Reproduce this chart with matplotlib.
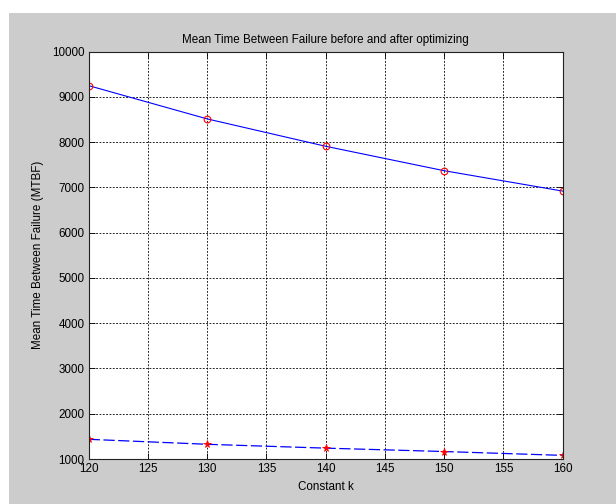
import matplotlib.pyplot as plt
from matplotlib.patches import Rectangle

k = [120, 130, 140, 150, 160]
mtbf_after = [9250, 8515, 7910, 7370, 6920]
mtbf_before = [1435, 1325, 1240, 1165, 1080]
xticks = [120, 125, 130, 135, 140, 145, 150, 155, 160]
yticks = [1000, 2000, 3000, 4000, 5000, 6000, 7000, 8000, 9000, 10000]

plt.rcParams['font.family'] = ['Liberation Sans', 'DejaVu Sans']
plt.rcParams['font.size'] = 8.4

fig = plt.figure(figsize=(6.16, 5.04), dpi=100)
fig.patch.set_facecolor('white')
# grey figure panel, inset a little from the top and left edges
fig.patches.append(Rectangle((9 / 616, 0), 1, 1 - 13 / 504, transform=fig.transFigure,
                             facecolor='#cccccc', edgecolor='none', zorder=-10))

ax = fig.add_axes([88.7 / 616, 45 / 504, 474 / 616, 407.3 / 504])
ax.set_facecolor('white')

ax.plot(k, mtbf_after, '-', color='blue', lw=0.8)
ax.plot(k, mtbf_after, 'o', mfc='none', mec='red', ms=4.8, mew=0.8)
ax.plot(k, mtbf_before, '--', color='blue', lw=0.9, dashes=(9, 2.8))
ax.plot(k, mtbf_before, '*', color='red', ms=5.5, mew=0.6)

ax.set_xlim(120, 160)
ax.set_ylim(1000, 10000)
ax.set_xticks(xticks)
ax.set_yticks(yticks)
ax.grid(True, color='black', linestyle=(0, (2.2, 1.8)), linewidth=0.6)
ax.tick_params(direction='in', length=4, width=0.6, top=True, right=True, pad=3)
for s in ax.spines.values():
    s.set_linewidth(0.8)
    s.set_color('#222222')

ax.set_title('Mean Time Between Failure before and after optimizing', fontsize=8.4, pad=6)
ax.set_xlabel('Constant k', labelpad=4)
ax.set_ylabel('Mean Time Between Failure (MTBF)', labelpad=6)

fig.savefig('out.png', dpi=100)
